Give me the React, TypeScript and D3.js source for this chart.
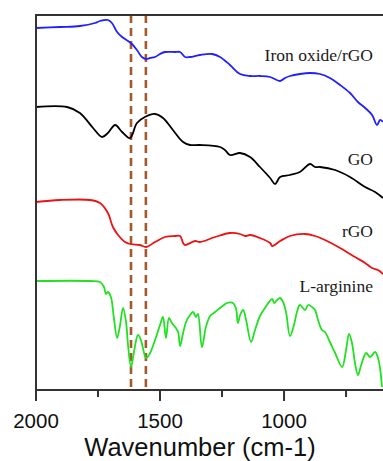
import React from "react";
import * as d3 from "d3";

// Wavenumber (cm-1) positions and offset transmittance (a.u.)
const ironWn = [2000,1903,1823,1762,1742,1710,1694,1673,1653,1629,1613,1593,1573,1556,1540,1520,1500,1480,1440,1419,1399,1379,1339,1290,1258,1218,1177,1137,1097,1056,1016,996,976,936,895,855,815,774,734,702,673,645,625,613,601];
const ironT = [362,363,364,367,369,370,367,358,353,349,346,340,333,331,332,333,336,338,338,338,333,333,335,336,333,325,316,314,314,313,309,312,314,316,317,316,312,305,297,288,282,275,265,270,268];

const goWn = [2000,1875,1823,1770,1734,1710,1681,1653,1621,1593,1561,1520,1488,1448,1407,1379,1339,1258,1238,1218,1177,1137,1097,1056,1036,1016,976,936,895,875,855,794,734,673,633,601];
const goT = [283,283,277,262,253,257,265,258,252,267,273,276,272,260,248,245,245,243,240,235,237,233,223,212,206,213,215,218,226,223,223,220,213,203,198,192];

const rgoWn = [2000,1903,1782,1742,1710,1690,1669,1641,1621,1581,1556,1520,1480,1440,1419,1407,1399,1359,1339,1278,1218,1177,1157,1137,1097,1056,1048,1016,976,915,875,835,774,714,673,645,621,601];
const rgoT = [188,190,190,187,177,163,155,148,146,145,143,148,153,154,154,147,145,149,148,153,157,156,154,155,152,147,144,149,154,156,154,150,142,133,127,122,120,116];

const argWn = [2000,1782,1742,1726,1718,1710,1698,1686,1673,1661,1649,1637,1629,1617,1605,1589,1577,1569,1556,1540,1520,1500,1488,1476,1464,1452,1436,1427,1419,1407,1395,1379,1367,1355,1347,1331,1315,1298,1278,1258,1242,1230,1206,1194,1186,1177,1165,1153,1133,1117,1097,1077,1048,1040,1028,1016,1004,992,976,960,948,936,915,903,887,875,863,847,835,815,794,766,750,738,726,714,702,689,669,653,633,621,613,605];
const argT = [109,109,108,103,96,98,93,72,52,65,82,68,45,23,38,55,50,42,32,37,50,65,73,52,72,67,62,58,44,57,68,75,78,73,76,43,63,74,78,82,85,87,87,82,67,75,80,70,48,60,74,82,91,87,90,92,88,78,54,65,78,85,80,85,83,80,70,60,58,48,37,23,40,56,47,27,15,25,37,33,38,32,22,3];

const seriesNames = ["Iron oxide/rGO", "GO", "rGO", "L-arginine"];
const seriesColors = ["#1f1fff", "#000000", "#ee1111", "#22e022"];
const labelLevels = [329, 225, 153, 98];

const markerWn = [1617, 1557];
const majorTicks = [2000, 1500, 1000];
const minorTicks = [1750, 1250, 750];

export default function App() {
  const W = 383, H = 461;
  const left = 36, right = 383, top = 15, bottom = 390;
  const x = d3.scaleLinear().domain([2000, 601]).range([left, right]);
  const y = d3.scaleLinear().domain([0, 375]).range([bottom, top]);

  const data = [
    [ironWn, ironT],
    [goWn, goT],
    [rgoWn, rgoT],
    [argWn, argT],
  ];

  const line = d3
    .line<[number, number]>()
    .x((d) => x(d[0]))
    .y((d) => y(d[1]))
    .curve(d3.curveCatmullRom.alpha(0.5));

  return (
    <svg
      width={W}
      height={H}
      style={{ position: "absolute", left: 0, top: 0, background: "#fff" }}
    >
      {markerWn.map((w, i) => (
        <line
          key={"m" + i}
          x1={x(w)}
          x2={x(w)}
          y1={top}
          y2={bottom - 2}
          stroke="#a5582a"
          strokeWidth={2.6}
          strokeDasharray="8,5"
        />
      ))}
      {data.map(([wn, t], i) => (
        <path
          key={"s" + i}
          d={line(wn.map((w, j) => [w, t[j]] as [number, number])) || ""}
          fill="none"
          stroke={seriesColors[i]}
          strokeWidth={1.8}
          strokeLinejoin="round"
        />
      ))}
      {seriesNames.map((n, i) => (
        <text
          key={"l" + i}
          x={373}
          y={y(labelLevels[i])}
          textAnchor="end"
          fontFamily="'Liberation Serif', 'Times New Roman', serif"
          fontSize={17.5}
          fill="#1a1a1a"
        >
          {n}
        </text>
      ))}
      {/* frame */}
      <line x1={left} x2={right} y1={top} y2={top} stroke="#333" strokeWidth={2} />
      <line x1={left} x2={left} y1={top - 1} y2={bottom + 1} stroke="#333" strokeWidth={2} />
      <line x1={left - 1} x2={right} y1={bottom} y2={bottom} stroke="#333" strokeWidth={2} />
      {majorTicks.map((t) => (
        <g key={"t" + t}>
          <line x1={x(t)} x2={x(t)} y1={bottom} y2={bottom + 11} stroke="#333" strokeWidth={2} />
          <text
            x={x(t)}
            y={428}
            textAnchor="middle"
            fontFamily="'Liberation Sans', Arial, sans-serif"
            fontSize={20.5}
            fill="#111"
          >
            {t}
          </text>
        </g>
      ))}
      {minorTicks.map((t) => (
        <line key={"n" + t} x1={x(t)} x2={x(t)} y1={bottom} y2={bottom + 7} stroke="#333" strokeWidth={2} />
      ))}
      <text
        x={200}
        y={456}
        textAnchor="middle"
        fontFamily="'Liberation Sans', Arial, sans-serif"
        fontSize={25.5}
        fill="#111"
      >
        Wavenumber (cm-1)
      </text>
    </svg>
  );
}
